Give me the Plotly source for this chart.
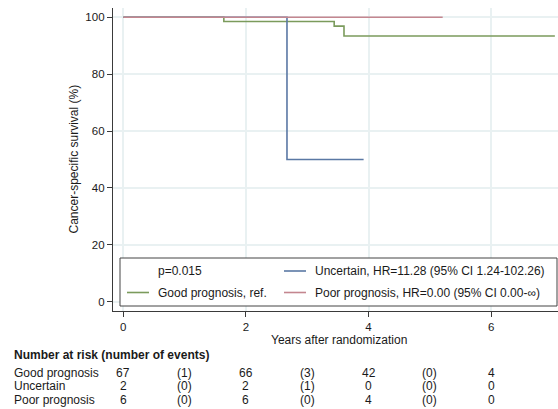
import plotly.graph_objects as go

# Kaplan-Meier step curves (time in years, survival in %)
good_t = [0, 1.64, 3.44, 3.60, 7.04]
good_s = [100, 98.5, 96.9, 93.4, 93.4]
unc_t = [0, 2.67, 3.92]
unc_s = [100, 50, 50]
poor_t = [0, 5.21]
poor_s = [100, 100]

# Number-at-risk table
risk_times = [0, 2, 4, 6]
event_times = [1, 3, 5]
row_names = ["Good prognosis", "Uncertain", "Poor prognosis"]
at_risk = [[67, 66, 42, 4], [2, 2, 0, 0], [6, 6, 4, 0]]
events = [[1, 3, 0], [0, 1, 0], [0, 0, 0]]

legend_left = ["p=0.015", "Good prognosis, ref."]
legend_right = ["Uncertain, HR=11.28 (95% CI 1.24-102.26)",
                "Poor prognosis, HR=0.00 (95% CI 0.00-\u221e)"]

GREEN = "#7b9b5c"
BLUE = "#5a78a4"
RED = "#c4868f"
TXT = "#1a1a1a"
AXIS = "#3a3a3a"
GRID = "#e9f1f2"
FONT = "Liberation Sans, Arial, sans-serif"

W, H = 558, 409
L, R, T, B = 113, 0, 8, 98
PW, PH = W - L - R, H - T - B


def px(xp):
    return (xp - L) / PW


def py(yp):
    return (H - B - yp) / PH


fig = go.Figure()
for t, s, c in [(good_t, good_s, GREEN), (unc_t, unc_s, BLUE), (poor_t, poor_s, RED)]:
    fig.add_trace(go.Scatter(x=t, y=s, mode="lines", line=dict(color=c, width=1.6, shape="hv"),
                             showlegend=False, hoverinfo="skip"))

shapes = []
annotations = []

# Legend box
shapes.append(dict(type="rect", xref="paper", yref="paper", x0=px(120), x1=px(557),
                   y0=py(306), y1=py(258), fillcolor="white", line=dict(color="#444", width=1),
                   layer="above"))
row_y = [271, 292.5]
for (x0, x1, yy, col) in [(127, 149, row_y[1], GREEN), (284, 306, row_y[0], BLUE), (284, 306, row_y[1], RED)]:
    shapes.append(dict(type="line", xref="paper", yref="paper", x0=px(x0), x1=px(x1),
                       y0=py(yy), y1=py(yy), line=dict(color=col, width=1.6), layer="above"))
for i, txt in enumerate(legend_left):
    annotations.append(dict(text=txt, xref="paper", yref="paper", x=px(156), y=py(row_y[i]),
                            xanchor="left", yanchor="middle", showarrow=False,
                            font=dict(size=12, color=TXT, family=FONT)))
for i, txt in enumerate(legend_right):
    annotations.append(dict(text=txt, xref="paper", yref="paper", x=px(313), y=py(row_y[i]),
                            xanchor="left", yanchor="middle", showarrow=False,
                            font=dict(size=12, color=TXT, family=FONT)))

# Axis titles
annotations.append(dict(text="Years after randomization", xref="paper", yref="paper",
                        x=px(339), y=py(340), xanchor="center", yanchor="middle", showarrow=False,
                        font=dict(size=12, color=TXT, family=FONT)))
annotations.append(dict(text="Cancer-specific survival (%)", xref="paper", yref="paper",
                        x=px(73), y=py(159.5), xanchor="center", yanchor="middle", showarrow=False,
                        textangle=-90, font=dict(size=12, color=TXT, family=FONT)))

# Risk table
annotations.append(dict(text="<b>Number at risk (number of events)</b>", xref="paper", yref="paper",
                        x=px(12), y=py(355), xanchor="left", yanchor="middle", showarrow=False,
                        font=dict(size=12, color=TXT, family=FONT)))
table_y = [372.5, 386, 400]
for r, name in enumerate(row_names):
    annotations.append(dict(text=name, xref="paper", yref="paper", x=px(12), y=py(table_y[r]),
                            xanchor="left", yanchor="middle", showarrow=False,
                            font=dict(size=12, color=TXT, family=FONT)))
    for t, n in zip(risk_times, at_risk[r]):
        annotations.append(dict(text=str(n), xref="x", yref="paper", x=t, y=py(table_y[r]),
                                xanchor="center", yanchor="middle", showarrow=False,
                                font=dict(size=12, color=TXT, family=FONT)))
    for t, e in zip(event_times, events[r]):
        annotations.append(dict(text=f"({e})", xref="x", yref="paper", x=t, y=py(table_y[r]),
                                xanchor="center", yanchor="middle", showarrow=False,
                                font=dict(size=12, color=TXT, family=FONT)))

fig.update_layout(
    width=W, height=H,
    margin=dict(l=L, r=R, t=T, b=B, pad=0),
    paper_bgcolor="white", plot_bgcolor="white",
    font=dict(family=FONT, size=12, color=TXT),
    shapes=shapes, annotations=annotations,
    xaxis=dict(range=[-0.168, 7.091], tickvals=[0, 2, 4, 6], showgrid=True, gridcolor=GRID,
               gridwidth=1.5, zeroline=False, showline=True, linecolor=AXIS, linewidth=1.3,
               ticks="outside", ticklen=5, tickcolor=AXIS, tickwidth=1.3,
               tickfont=dict(size=11.5, color=TXT)),
    yaxis=dict(range=[-3.27, 103.27], tickvals=[0, 20, 40, 60, 80, 100], showgrid=True,
               gridcolor=GRID, gridwidth=1.5, zeroline=False, showline=True, linecolor=AXIS,
               linewidth=1.3, ticks="outside", ticklen=5, tickcolor=AXIS, tickwidth=1.3,
               tickfont=dict(size=11.5, color=TXT)),
)

fig.write_html("out.html")
